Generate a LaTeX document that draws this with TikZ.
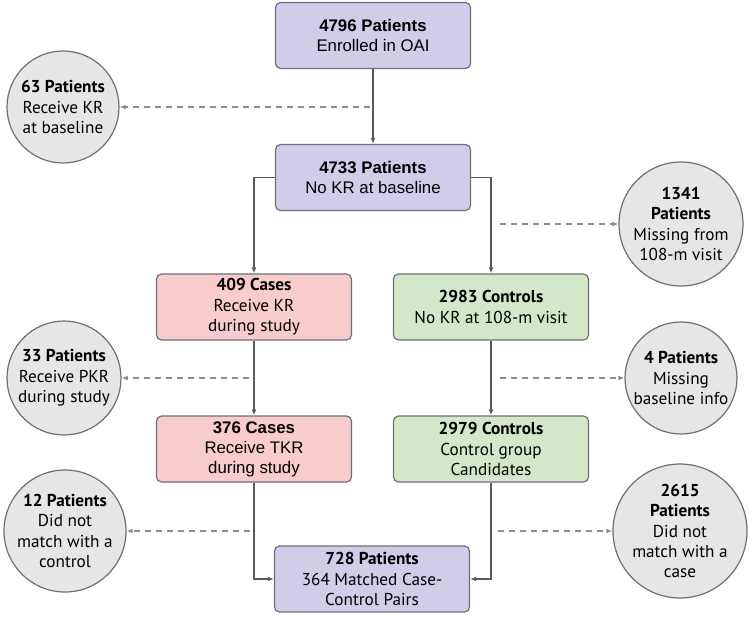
\documentclass[tikz,border=0pt]{standalone}
\usepackage{fontspec}
\setmainfont{PT Sans}
\newfontfamily\arialfont{Liberation Sans}
\usepackage{tikz}
\usetikzlibrary{arrows.meta,positioning,calc}
\definecolor{oaiLavender}{HTML}{CFCDE8}
\definecolor{oaiPink}{HTML}{F8CBCD}
\definecolor{oaiGreen}{HTML}{D4E8C9}
\definecolor{oaiGray}{HTML}{E6E6E6}
\definecolor{oaiEdge}{HTML}{6E6E78}
\definecolor{oaiLine}{HTML}{5A5A5A}
\definecolor{oaiDash}{HTML}{8C8C8C}

\begin{document}
\begin{tikzpicture}[
    x=0.5pt, y=-0.5pt,
    font=\fontsize{8.6}{10.2}\selectfont,
    box/.style={draw=oaiEdge, rounded corners=2.5pt, minimum width=97.5pt, minimum height=33pt, align=center, inner sep=1pt, line width=0.6pt},
    lav/.style={box, fill=oaiLavender},
    cases/.style={box, fill=oaiPink},
    ctrls/.style={box, fill=oaiGreen},
    arial/.style={font=\arialfont\fontsize{8.4}{10}\selectfont},
    excl/.style={circle, draw=oaiEdge, fill=oaiGray, inner sep=0pt, align=center, line width=0.6pt},
    wire/.style={draw=oaiLine, line width=0.6pt, -{Latex[length=3pt,width=2.4pt]}},
    dropwire/.style={draw=oaiDash, line width=0.7pt, dash pattern=on 3pt off 2.5pt, -{Latex[length=3pt,width=2.4pt]}}
  ]
    \useasboundingbox (0,0) rectangle (750,617);
    % main column
    \node[lav, arial] (enrol) at (373,35.5) {\textbf{4796 Patients}\\Enrolled in OAI};
    \node[lav, arial] (nokr) at (373,177.5) {\textbf{4733 Patients}\\No KR at baseline};
    \node[cases] (kr409) at (254,307) {\textbf{409 Cases}\\Receive KR\\during study};
    \node[ctrls] (ctl2983) at (491,307) {\textbf{2983 Controls}\\No KR at 108-m visit};
    \node[cases, arial] (tkr376) at (254,449) {\textbf{376 Cases}\\Receive TKR\\during study};
    \node[ctrls] (ctl2979) at (491,449) {\textbf{2979 Controls}\\Control group\\Candidates};
    \node[lav] (match) at (372,579) {\textbf{728 Patients}\\364 Matched Case-\\Control Pairs};
    % exclusions
    \node[excl, minimum size=56pt] (ex63) at (63,107) {\textbf{63 Patients}\\Receive KR\\at baseline};
    \node[excl, minimum size=62pt] (ex1341) at (681,224) {\textbf{1341}\\\textbf{Patients}\\Missing from\\108-m visit};
    \node[excl, minimum size=57pt] (ex33) at (64,378) {\textbf{33 Patients}\\Receive PKR\\during study};
    \node[excl, minimum size=56pt] (ex4) at (681,378) {\textbf{4 Patients}\\Missing\\baseline info};
    \node[excl, minimum size=61pt] (ex12) at (65,531) {\textbf{12 Patients}\\Did not\\match with a\\control};
    \node[excl, minimum size=67pt] (ex2615) at (680,531) {\textbf{2615}\\\textbf{Patients}\\Did not\\match with a\\case};
    % flow
    \draw[wire] (enrol) -- (nokr);
    \draw[wire] (nokr.west) -| (kr409.north);
    \draw[wire] (nokr.east) -| (ctl2983.north);
    \draw[wire] (kr409) -- (tkr376);
    \draw[wire] (ctl2983) -- (ctl2979);
    \draw[wire] (tkr376.south) |- (match.west);
    \draw[wire] (ctl2979.south) |- (match.east);
    % dropped patients
    \coordinate (d63) at (370,107);
    \coordinate (d1341) at (500,224);
    \coordinate (d33) at (249,378);
    \coordinate (d4) at (500,378);
    \coordinate (d12) at (250,531);
    \coordinate (d2615) at (498,531);
    \draw[dropwire] (d63) -- (ex63);
    \draw[dropwire] (d1341) -- (ex1341);
    \draw[dropwire] (d33) -- (ex33);
    \draw[dropwire] (d4) -- (ex4);
    \draw[dropwire] (d12) -- (ex12);
    \draw[dropwire] (d2615) -- (ex2615);
  \end{tikzpicture}
\end{document}
